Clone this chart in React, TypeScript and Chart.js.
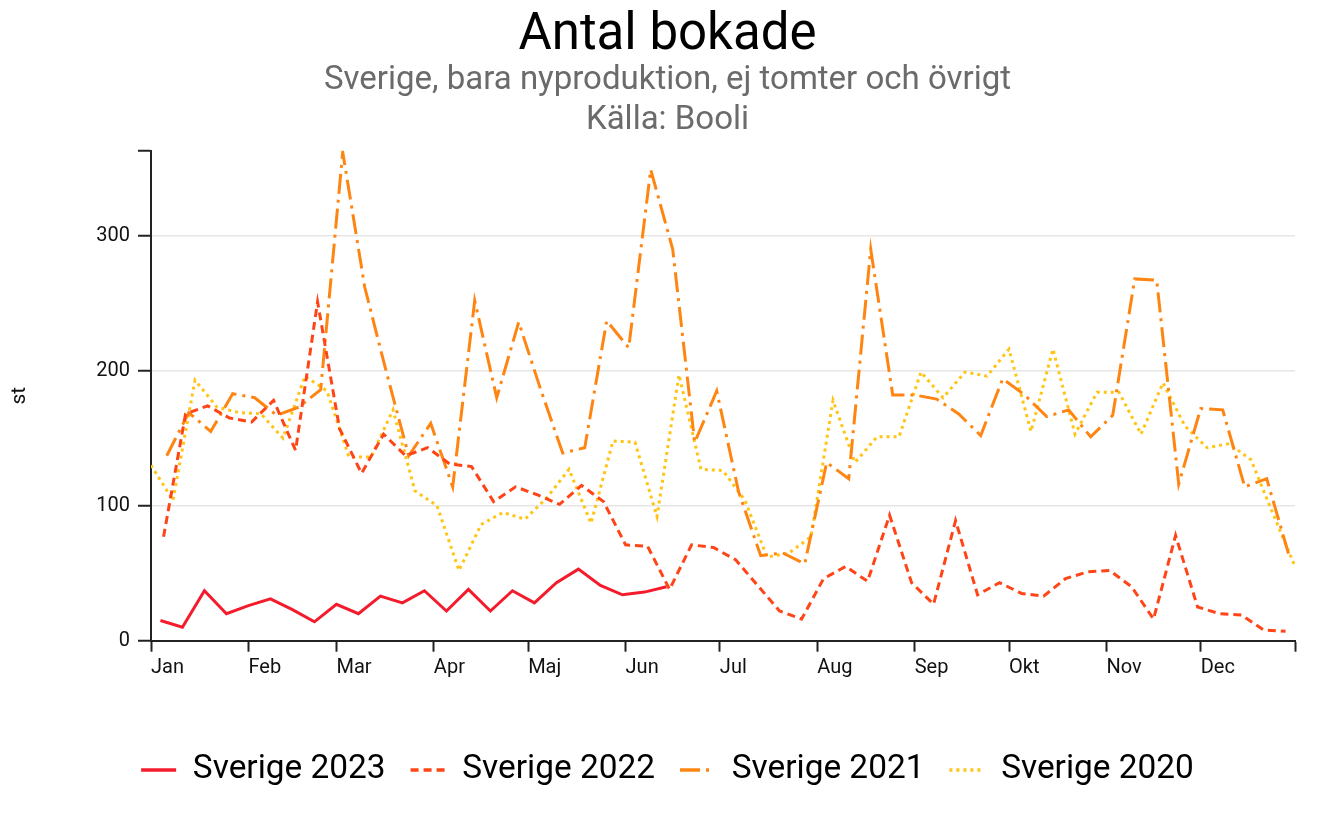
import React, { useEffect, useRef } from 'react';
import { Chart, registerables } from 'chart.js';

Chart.register(...registerables);

const FONT = 'Roboto, "Noto Sans", sans-serif';

// x axis: day of year, ticks at month starts
const monthTicks = [0, 31, 59, 90, 120, 151, 181, 212, 243, 273, 304, 334, 364];
const monthLabels = ['Jan', 'Feb', 'Mar', 'Apr', 'Maj', 'Jun', 'Jul', 'Aug', 'Sep', 'Okt', 'Nov', 'Dec', ''];
const xMax = 364;

// y axis
const yTicks = [0, 100, 200, 300, 363];
const yTickLabels = ['0', '100', '200', '300', ''];
const yMax = 363;

const seriesNames = ['Sverige 2023', 'Sverige 2022', 'Sverige 2021', 'Sverige 2020'];
// day-of-year of the first weekly point of each series
const firstWeekDay = [3, 4, 5, 0];

const values2023 = [15, 10, 37, 20, 26, 31, 23, 14, 27, 20, 33, 28, 37, 22, 38, 22, 37, 28, 43, 53, 41, 34, 36, 40];
const values2022 = [77, 168, 174, 165, 162, 178, 141, 251, 157, 124, 153, 137, 143, 131, 129, 103, 114, 108, 101, 115, 103, 71, 70, 38, 71, 69, 60, 41, 22, 16, 46, 55, 44, 93, 43, 27, 89, 34, 43, 35, 33, 46, 51, 52, 40, 16, 78, 25, 20, 19, 8, 7];
const values2021 = [137, 169, 155, 183, 180, 167, 173, 186, 362, 262, 198, 137, 161, 114, 252, 180, 236, 186, 139, 143, 237, 217, 349, 290, 147, 185, 110, 63, 65, 57, 132, 120, 290, 182, 182, 179, 168, 152, 194, 182, 166, 171, 151, 167, 268, 267, 116, 172, 171, 114, 120, 64];
const values2020 = [130, 104, 193, 173, 169, 168, 150, 196, 185, 136, 136, 171, 111, 100, 52, 86, 95, 90, 106, 127, 87, 148, 147, 92, 197, 127, 126, 104, 62, 65, 77, 178, 132, 151, 151, 199, 180, 199, 196, 216, 155, 216, 153, 184, 184, 153, 191, 159, 143, 146, 134, 94, 55];

const seriesValues = [values2023, values2022, values2021, values2020];
const seriesColors = ['#f41c2c', '#ff4517', '#ff8512', '#ffc414'];
const seriesDash: number[][] = [[], [8, 5], [20, 6, 3, 6], [3, 4]];

export default function App() {
  const canvasRef = useRef<HTMLCanvasElement | null>(null);

  useEffect(() => {
    if (!canvasRef.current) return;
    const datasets = seriesValues.map((vals, s) => ({
      label: seriesNames[s],
      data: vals.map((v, i) => ({ x: firstWeekDay[s] + 7 * i, y: v })),
      borderColor: seriesColors[s],
      backgroundColor: seriesColors[s],
      borderWidth: 3,
      borderDash: seriesDash[s],
      pointRadius: 0,
      pointHoverRadius: 0,
      tension: 0,
      fill: false,
      order: s,
    }));

    const chart = new Chart(canvasRef.current, {
      type: 'line',
      data: { datasets },
      options: {
        animation: false,
        responsive: true,
        maintainAspectRatio: false,
        layout: { padding: { left: 40, right: 40, top: 0, bottom: 20.3 } },
        plugins: {
          title: {
            display: true,
            text: 'Antal bokade',
            color: '#000',
            font: { family: FONT, size: 51, weight: 'normal', lineHeight: 0.9 },
            padding: { top: 13.5, bottom: 0.2 },
          },
          subtitle: {
            display: true,
            text: ['Sverige, bara nyproduktion, ej tomter och övrigt', 'Källa: Booli'],
            color: '#6b6b6b',
            font: { family: FONT, size: 33, weight: 'normal', lineHeight: 40 / 33 },
            padding: { top: 1, bottom: 10.1 },
          },
          legend: {
            position: 'bottom',
            labels: {
              usePointStyle: true,
              pointStyle: 'line',
              pointStyleWidth: 35,
              color: '#000',
              font: { family: FONT, size: 33.4 },
              padding: 25,
              generateLabels: (ch: any) => {
                const items = (Chart.defaults.plugins.legend.labels as any).generateLabels(ch);
                return items.map((it: any, i: number) => ({
                  ...it,
                  pointStyle: 'line',
                  lineDash: seriesDash[i],
                  lineWidth: 3.5,
                  strokeStyle: seriesColors[i],
                  fillStyle: seriesColors[i],
                  fontColor: '#000',
                }));
              },
            },
          },
          tooltip: { enabled: false },
        },
        scales: {
          x: {
            type: 'linear',
            min: 0,
            max: xMax,
            afterBuildTicks: (scale: any) => {
              scale.ticks = monthTicks.map((v) => ({ value: v }));
            },
            afterFit: (scale: any) => {
              scale.height = 87.6;
            },
            ticks: {
              autoSkip: false,
              maxRotation: 0,
              align: 'start',
              padding: 4,
              color: '#111',
              font: { family: FONT, size: 20 },
              callback: (_v: any, i: number) => monthLabels[i],
            },
            grid: {
              drawOnChartArea: false,
              drawTicks: true,
              tickLength: 11,
              tickColor: '#222',
              tickWidth: 2,
            },
            border: { color: '#222', width: 2 },
          },
          y: {
            type: 'linear',
            min: 0,
            max: yMax,
            afterBuildTicks: (scale: any) => {
              scale.ticks = yTicks.map((v) => ({ value: v }));
            },
            afterFit: (scale: any) => {
              scale.width = 111;
            },
            ticks: {
              padding: 8,
              color: '#111',
              font: { family: FONT, size: 20 },
              callback: (_v: any, i: number) => yTickLabels[i],
            },
            grid: {
              drawTicks: true,
              tickLength: 13,
              tickColor: '#222',
              tickWidth: 2,
              lineWidth: 1.5,
              color: (ctx: any) =>
                ctx.tick && (ctx.tick.value === 0 || ctx.tick.value === yMax) ? 'rgba(0,0,0,0)' : '#e6e6e6',
            },
            border: { color: '#222', width: 2 },
            title: {
              display: true,
              text: 'st',
              color: '#111',
              font: { family: FONT, size: 21, lineHeight: 1.2 },
              padding: { top: -32.6, bottom: 0 },
            },
          },
        },
      },
    } as any);

    return () => chart.destroy();
  }, []);

  return (
    <div style={{ position: 'fixed', left: 0, top: 0, width: 1335, height: 817, background: '#fff' }}>
      <canvas ref={canvasRef} />
    </div>
  );
}
